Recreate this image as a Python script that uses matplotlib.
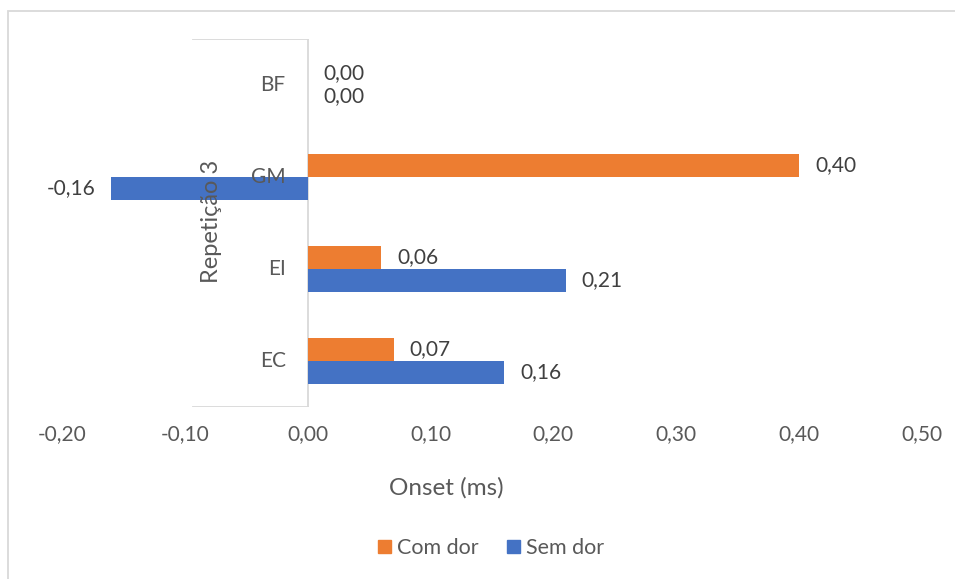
import matplotlib
matplotlib.use("Agg")
import matplotlib.pyplot as plt
from matplotlib.patches import Rectangle, Patch
from matplotlib.lines import Line2D
import numpy as np

plt.rcParams['font.family'] = ['Lato', 'DejaVu Sans']

categories = ["EC", "EI", "GM", "BF"]
group_label = "Repetição 3"
com_dor = [0.07, 0.06, 0.40, 0.00]
sem_dor = [0.16, 0.21, -0.16, 0.00]
x_ticks = [-0.20, -0.10, 0.00, 0.10, 0.20, 0.30, 0.40, 0.50]

ORANGE = "#ED7D31"
BLUE = "#4472C4"
TEXT = "#595959"
LABEL = "#404040"
GRID = "#D9D9D9"

W, H = 955, 579
fig = plt.figure(figsize=(W / 100, H / 100), dpi=100)

# chart outer border
fig.patches.append(Rectangle((8 / W, -0.05), 1.2, 1 - 11 / H + 0.05,
                             transform=fig.transFigure, fill=False,
                             edgecolor=GRID, linewidth=1.3))

left, right, top, bottom = 62, 922, 39, 407
ax = fig.add_axes([left / W, 1 - bottom / H, (right - left) / W, (bottom - top) / H])

y = np.arange(len(categories))
h = 0.25
ax.barh(y + h / 2, com_dor, height=h, color=ORANGE, zorder=3)
ax.barh(y - h / 2, sem_dor, height=h, color=BLUE, zorder=3)

ax.set_xlim(-0.20, 0.50)
ax.set_ylim(-0.5, len(categories) - 0.5)
ax.set_xticks(x_ticks)
ax.set_xticklabels([f"{v:.2f}".replace(".", ",") for v in x_ticks])
ax.tick_params(axis='x', length=0, labelsize=15, labelcolor=TEXT, pad=12)
ax.set_yticks([])
for s in ax.spines.values():
    s.set_visible(False)

# category axis at zero with the group bracket lines
box_x = (193 - left) / (right - left)
x0_frac = (0 - (-0.20)) / 0.70
ax.plot([0, 0], [-0.5, len(categories) - 0.5], color=GRID, lw=1.3, zorder=2)
ax.add_line(Line2D([box_x, x0_frac], [1, 1], transform=ax.transAxes, color=GRID, lw=1.3))
ax.add_line(Line2D([box_x, x0_frac], [0, 0], transform=ax.transAxes, color=GRID, lw=1.3))

for yi, name in zip(y, categories):
    ax.annotate(name, xy=(0, yi), xytext=(-22, 0),
                textcoords='offset pixels', ha='right', va='center',
                fontsize=15, color=TEXT)

ax.text((211 - left) / (right - left), 1 - (221 - top) / (bottom - top), group_label,
        transform=ax.transAxes, rotation=90, ha='center', va='center',
        fontsize=17, color=TEXT)


def fmt(v):
    return f"{v:.2f}".replace(".", ",")


for yi, a, b in zip(y, com_dor, sem_dor):
    for val, yy in ((a, yi + h / 2), (b, yi - h / 2)):
        off = 16 if val >= 0 else -16
        ax.annotate(fmt(val), xy=(val, yy), xytext=(off, 0), textcoords='offset pixels',
                    ha='left' if val >= 0 else 'right', va='center',
                    fontsize=15, color=LABEL, zorder=4)

fig.text(446 / W, 1 - 488 / H, "Onset (ms)", ha='center', va='center',
         fontsize=17.5, color=TEXT)

handles = [Patch(color=ORANGE, label="Com dor"), Patch(color=BLUE, label="Sem dor")]
fig.legend(handles=handles, loc='center', bbox_to_anchor=(491 / W, 1 - 548 / H),
           ncol=2, frameon=False, fontsize=15.5, labelcolor=TEXT,
           handlelength=0.6, handleheight=0.6, handletextpad=0.3, columnspacing=1.3)

fig.savefig("out.png", dpi=100)
